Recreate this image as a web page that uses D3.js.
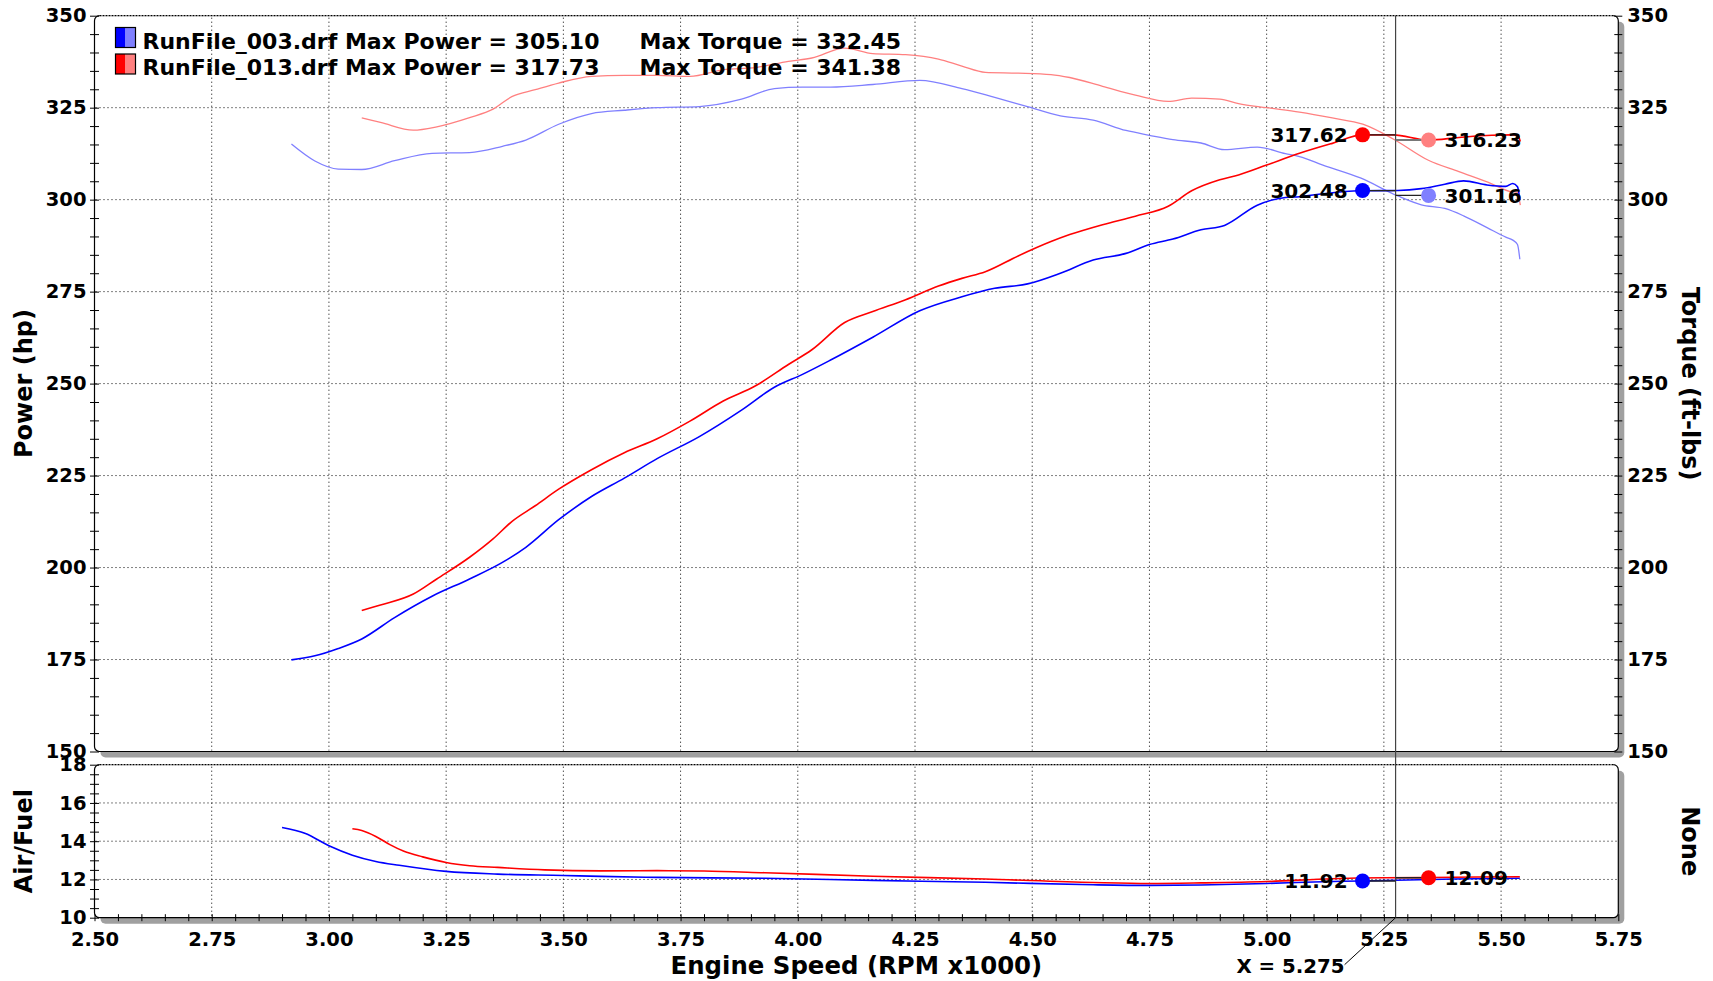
<!DOCTYPE html>
<html><head><meta charset="utf-8">
<script src="https://cdn.jsdelivr.net/npm/d3@7"></script>
<style>
html,body{margin:0;padding:0;background:#fff;overflow:hidden;}
svg text{font-family:"DejaVu Sans",Verdana,sans-serif;font-weight:bold;fill:#000;}
</style></head><body>
<svg id="chart" width="1713" height="981"></svg>
<script>
// ---------------- data ----------------
const rpm003 = [2.92,2.97,3.02,3.07,3.14,3.22,3.30,3.37,3.42,3.49,3.56,3.63,3.70,3.79,3.88,3.95,4.01,4.07,4.16,4.26,4.35,4.42,4.49,4.56,4.63,4.70,4.75,4.80,4.86,4.91,4.98,5.04,5.07,5.12,5.20,5.28,5.33,5.38,5.42,5.47,5.51,5.525,5.535,5.54];
const power003 = [174.9,176.0,178.0,180.6,186.4,192.2,196.9,201.4,205.5,213.0,219.3,224.3,229.6,235.6,242.8,249.0,252.5,256.4,262.6,269.8,273.6,275.9,277.1,280.0,283.6,285.4,287.8,289.3,291.8,293.0,298.5,300.6,300.8,301.6,302.4,302.5,303.0,304.2,305.1,304.0,303.6,304.4,303.5,300.0];
const torque003 = [315.1,310.5,308.3,308.2,310.6,312.6,312.8,314.5,316.2,320.5,323.4,324.3,325.0,325.3,327.3,330.2,330.6,330.6,331.3,332.4,330.2,327.8,325.3,322.8,321.6,318.8,317.5,316.3,315.4,313.6,314.3,312.5,311.7,309.4,305.9,301.0,298.6,297.6,295.6,292.4,289.8,289.0,287.8,283.8];

const rpm013 = [3.07,3.11,3.18,3.23,3.30,3.35,3.39,3.44,3.49,3.56,3.63,3.70,3.77,3.84,3.91,3.98,4.03,4.10,4.16,4.23,4.30,4.35,4.40,4.47,4.54,4.58,4.65,4.72,4.79,4.84,4.90,4.94,5.00,5.07,5.14,5.205,5.27,5.345,5.41,5.48,5.52,5.535,5.541];
const power013 = [188.3,189.8,192.8,196.9,202.8,207.8,212.5,216.8,221.3,226.6,231.2,235.0,239.8,245.2,249.4,255.2,259.2,266.6,269.6,272.8,276.5,278.6,280.4,284.7,288.6,290.5,293.2,295.5,298.2,302.4,305.4,306.7,309.4,312.6,315.3,317.6,317.6,316.2,316.9,317.5,317.6,317.6,315.8];
const torque013 = [322.2,321.0,318.9,319.8,322.3,324.6,328.0,329.9,331.7,333.5,333.8,333.8,333.5,335.3,335.9,337.6,338.5,341.2,339.7,339.4,338.2,336.3,334.6,334.4,334.0,333.2,330.8,328.4,326.7,327.6,327.3,326.1,325.0,323.8,322.2,320.5,316.5,310.7,307.6,304.3,302.2,302.0,298.5];

const afrRpm003 = [2.90,2.95,3.00,3.05,3.10,3.15,3.25,3.36,3.50,3.58,3.70,3.93,4.16,4.40,4.63,4.75,4.86,5.00,5.10,5.20,5.30,5.40,5.54];
const afr003 = [14.72,14.40,13.76,13.27,12.94,12.74,12.42,12.28,12.21,12.16,12.11,12.06,11.95,11.85,11.72,11.69,11.71,11.79,11.87,11.92,11.97,12.02,12.06];
const afrRpm013 = [3.05,3.07,3.10,3.13,3.16,3.20,3.25,3.30,3.36,3.46,3.58,3.70,3.80,3.93,4.16,4.40,4.63,4.75,4.86,5.00,5.14,5.25,5.35,5.45,5.54];
const afr013 = [14.65,14.56,14.25,13.82,13.47,13.18,12.89,12.72,12.63,12.50,12.45,12.46,12.44,12.35,12.17,12.02,11.84,11.79,11.82,11.89,12.04,12.09,12.10,12.13,12.14];

const xTicks = [2.50,2.75,3.00,3.25,3.50,3.75,4.00,4.25,4.50,4.75,5.00,5.25,5.50,5.75];
const powerTicks = [150,175,200,225,250,275,300,325,350];
const afrTicks = [10,12,14,16,18];

const runNames = ["RunFile_003.drf","RunFile_013.drf"];
const maxPower = ["305.10","317.73"];
const maxTorque = ["332.45","341.38"];
const cursorRpm = 5.275;
const cursorPower = [302.48, 317.62];
const cursorTorque = [301.16, 316.23];
const cursorAfr = [11.92, 12.09];

// ---------------- styles / layout ----------------
const powerColors = ["#0000ff","#ff0000"];
const torqueColors = ["#8080ff","#ff8080"];
const L = 94.5, R = 1618.3, T1 = 15.7, B1 = 751.5, T2 = 764.7, B2 = 917.7;

const svg = d3.select("#chart");
const x = d3.scaleLinear().domain([2.5,5.75]).range([L,R]);
const yP = d3.scaleLinear().domain([150,350]).range([B1,T1]);
const yT = d3.scaleLinear().domain([150,350]).range([B1,T1]);
const yA = d3.scaleLinear().domain([10,18]).range([B2,T2]);

function frame(y0, y1){
  svg.append("rect").attr("x",L+6).attr("y",y0+6).attr("width",R-L).attr("height",y1-y0)
    .attr("rx",5).attr("fill","#a0a0a0");
  svg.append("rect").attr("x",L).attr("y",y0).attr("width",R-L).attr("height",y1-y0)
    .attr("rx",5).attr("fill","#fff").attr("stroke","#000").attr("stroke-width",1.2);
  svg.append("line").attr("x1",L+5).attr("x2",R-5).attr("y1",y0).attr("y2",y0)
    .attr("stroke","#fff").attr("stroke-width",2);
  svg.append("line").attr("x1",L+5).attr("x2",R-5).attr("y1",y0).attr("y2",y0)
    .attr("stroke","#000").attr("stroke-width",1.2).attr("stroke-dasharray","2,1");
}
frame(T1,B1);
frame(T2,B2);

// grids
const grid = svg.append("g").attr("stroke","#000").attr("stroke-width",1).attr("stroke-dasharray","1,3");
xTicks.filter(d=>d>2.5 && d<5.75).forEach(d=>{
  grid.append("line").attr("x1",x(d)).attr("x2",x(d)).attr("y1",T1+2).attr("y2",B1-1);
  grid.append("line").attr("x1",x(d)).attr("x2",x(d)).attr("y1",T2+2).attr("y2",B2-1);
});
powerTicks.filter(d=>d>150 && d<350).forEach(d=>{
  grid.append("line").attr("x1",L+1).attr("x2",R-1).attr("y1",yP(d)).attr("y2",yP(d));
});
afrTicks.filter(d=>d>10 && d<18).forEach(d=>{
  grid.append("line").attr("x1",L+1).attr("x2",R-1).attr("y1",yA(d)).attr("y2",yA(d));
});

// axes helpers
function styleAxis(g, size){
  g.attr("font-size",size).attr("font-family",null);
  g.select(".domain").remove();
}
function crossTicks(g, half, vertical){
  g.selectAll(".tick line").attr("stroke","#000").attr("stroke-width",1);
  if(vertical) g.selectAll(".tick line").attr("y1",-half).attr("y2",half);
  else g.selectAll(".tick line").attr("x1",-half).attr("x2",half);
  g.select(".domain").remove();
  g.selectAll(".tick text").remove();
}
// minor ticks
svg.append("g").attr("transform",`translate(${L},0)`)
  .call(d3.axisLeft(yP).tickValues(d3.range(0,41).map(i=>150+i*5)).tickSize(4).tickFormat(""))
  .call(g=>crossTicks(g,4.5,false));
svg.append("g").attr("transform",`translate(${R},0)`)
  .call(d3.axisRight(yT).tickValues(d3.range(0,41).map(i=>150+i*5)).tickSize(4).tickFormat(""))
  .call(g=>crossTicks(g,4,false));
svg.append("g").attr("transform",`translate(${L},0)`)
  .call(d3.axisLeft(yA).tickValues(d3.range(0,17).map(i=>10+i*0.5)).tickSize(4).tickFormat(""))
  .call(g=>crossTicks(g,4.5,false));
svg.append("g").attr("transform",`translate(0,${B2})`)
  .call(d3.axisBottom(x).tickValues(d3.range(0,66).map(i=>2.5+i*0.05)).tickSize(4).tickFormat(""))
  .call(g=>crossTicks(g,3.5,true));

// labels
svg.append("g").attr("transform",`translate(${L},0)`)
  .call(d3.axisLeft(yP).tickValues(powerTicks).tickSize(0).tickPadding(8).tickFormat(d3.format("d")))
  .call(g=>styleAxis(g,19.5));
svg.append("g").attr("transform",`translate(${R},0)`)
  .call(d3.axisRight(yT).tickValues(powerTicks).tickSize(0).tickPadding(9).tickFormat(d3.format("d")))
  .call(g=>styleAxis(g,19.5));
svg.append("g").attr("transform",`translate(${L},0)`)
  .call(d3.axisLeft(yA).tickValues(afrTicks).tickSize(0).tickPadding(8).tickFormat(d3.format("d")))
  .call(g=>styleAxis(g,19.5));
svg.append("g").attr("transform",`translate(0,${B2})`)
  .call(d3.axisBottom(x).tickValues(xTicks).tickSize(0).tickPadding(14).tickFormat(d3.format(".2f")))
  .call(g=>styleAxis(g,19.5));

// axis titles
function title(txt, tx, ty, rot, size){
  svg.append("text").attr("transform",`translate(${tx},${ty}) rotate(${rot})`)
    .attr("text-anchor","middle").attr("font-size",size).text(txt);
}
title("Power (hp)", 32, (T1+B1)/2, -90, 24);
title("Air/Fuel", 32, (T2+B2)/2, -90, 24);
title("Torque (ft-lbs)", 1681.5, (T1+B1)/2, 90, 24);
title("None", 1681.5, (T2+B2)/2, 90, 24);
title("Engine Speed (RPM x1000)", (L+R)/2, 974, 0, 24.4);

// curves
const lineP = d3.line().x(d=>x(d[0])).y(d=>yP(d[1])).curve(d3.curveMonotoneX);
const lineT = d3.line().x(d=>x(d[0])).y(d=>yT(d[1])).curve(d3.curveMonotoneX);
const lineA = d3.line().x(d=>x(d[0])).y(d=>yA(d[1])).curve(d3.curveMonotoneX);
const runs = [
  {rpm:rpm003, p:power003, t:torque003, ar:afrRpm003, a:afr003},
  {rpm:rpm013, p:power013, t:torque013, ar:afrRpm013, a:afr013}
];
runs.forEach((r,i)=>{
  svg.append("path").attr("d",lineT(d3.zip(r.rpm,r.t))).attr("fill","none")
    .attr("stroke",torqueColors[i]).attr("stroke-width",1.3);
});
runs.forEach((r,i)=>{
  svg.append("path").attr("d",lineP(d3.zip(r.rpm,r.p))).attr("fill","none")
    .attr("stroke",powerColors[i]).attr("stroke-width",1.6);
  svg.append("path").attr("d",lineA(d3.zip(r.ar,r.a))).attr("fill","none")
    .attr("stroke",powerColors[i]).attr("stroke-width",1.6);
});

// legend
runNames.forEach((n,i)=>{
  const yy = 27.5 + i*26.5;
  svg.append("rect").attr("x",115.5).attr("y",yy).attr("width",10).attr("height",20).attr("fill",powerColors[i]);
  svg.append("rect").attr("x",125.5).attr("y",yy).attr("width",10).attr("height",20).attr("fill",torqueColors[i]);
  svg.append("rect").attr("x",115.5).attr("y",yy).attr("width",20).attr("height",20).attr("fill","none").attr("stroke","#000").attr("stroke-width",1.2);
  svg.append("text").attr("x",142.5).attr("y",48.7+i*26).attr("font-size",22).text(`${n} Max Power = ${maxPower[i]}`);
  svg.append("text").attr("x",639.5).attr("y",48.7+i*26).attr("font-size",22).text(`Max Torque = ${maxTorque[i]}`);
});

// cursor
const cx = x(cursorRpm);
svg.append("line").attr("x1",cx).attr("x2",cx).attr("y1",T1).attr("y2",B2).attr("stroke","#444").attr("stroke-width",1.2);
svg.append("line").attr("x1",cx).attr("y1",B2).attr("x2",cx-51).attr("y2",B2+47).attr("stroke","#000").attr("stroke-width",1);
svg.append("text").attr("x",cx-51).attr("y",973).attr("text-anchor","end").attr("font-size",19.8).text(`X = ${cursorRpm}`);

// markers
const off = 33;
function marker(px, py, color, label, side){
  svg.append("circle").attr("cx",px).attr("cy",py).attr("r",7.5).attr("fill",color);
  svg.append("text").attr("x", side<0 ? px-15 : px+16).attr("y",py).attr("dy","0.36em")
    .attr("text-anchor", side<0 ? "end" : "start").attr("font-size",20).text(label);
}
[0,1].forEach(i=>{
  const pyP = yP(cursorPower[i]), pyT = yT(cursorTorque[i]);
  svg.append("line").attr("x1",cx-off).attr("x2",cx).attr("y1",pyP).attr("y2",pyP).attr("stroke","#222").attr("stroke-width",1.3);
  svg.append("line").attr("x1",cx).attr("x2",cx+off).attr("y1",pyT).attr("y2",pyT).attr("stroke", i===1?"#777":"#222").attr("stroke-width", i===1?2:1.3);
});
const pa0 = yA(cursorAfr[0]), pa1 = yA(cursorAfr[1]);
svg.append("line").attr("x1",cx-off).attr("x2",cx).attr("y1",pa0).attr("y2",pa0).attr("stroke","#222").attr("stroke-width",1.3);
svg.append("line").attr("x1",cx).attr("x2",cx+off).attr("y1",pa1).attr("y2",pa1).attr("stroke","#222").attr("stroke-width",1.3);
[0,1].forEach(i=>{
  marker(cx-off, yP(cursorPower[i]), powerColors[i], cursorPower[i].toFixed(2), -1);
  marker(cx+off, yT(cursorTorque[i]), torqueColors[i], cursorTorque[i].toFixed(2), 1);
});
marker(cx-off, pa0, powerColors[0], cursorAfr[0].toFixed(2), -1);
marker(cx+off, pa1, powerColors[1], cursorAfr[1].toFixed(2), 1);
</script>
</body></html>
